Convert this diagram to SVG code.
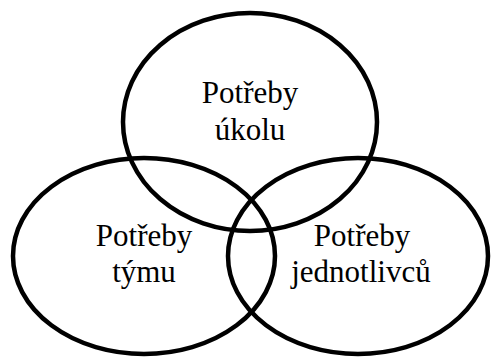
<svg xmlns="http://www.w3.org/2000/svg" width="491" height="358" viewBox="0 0 491 358">
<style>
.c{fill:none;stroke:#000;stroke-width:4.5}
.t{font-family:'Liberation Serif','Times New Roman','DejaVu Serif',serif;font-size:31px;fill:#000;text-anchor:middle}
</style>
<rect width="491" height="358" fill="#fff"/>
<g id="connectors"></g>
<g id="ukol"><ellipse class="c" cx="250" cy="122" rx="127" ry="109"/>
<text class="t" x="250" y="103">Potřeby</text><text class="t" x="250" y="140">úkolu</text></g>
<g id="tym"><ellipse class="c" cx="144" cy="256" rx="131" ry="98"/>
<text class="t" x="144" y="246">Potřeby</text><text class="t" x="144" y="282">týmu</text></g>
<g id="jednotlivci"><ellipse class="c" cx="358" cy="256" rx="130" ry="98"/>
<text class="t" x="362" y="246">Potřeby</text><text class="t" x="361" y="282">jednotlivců</text></g>
</svg>
